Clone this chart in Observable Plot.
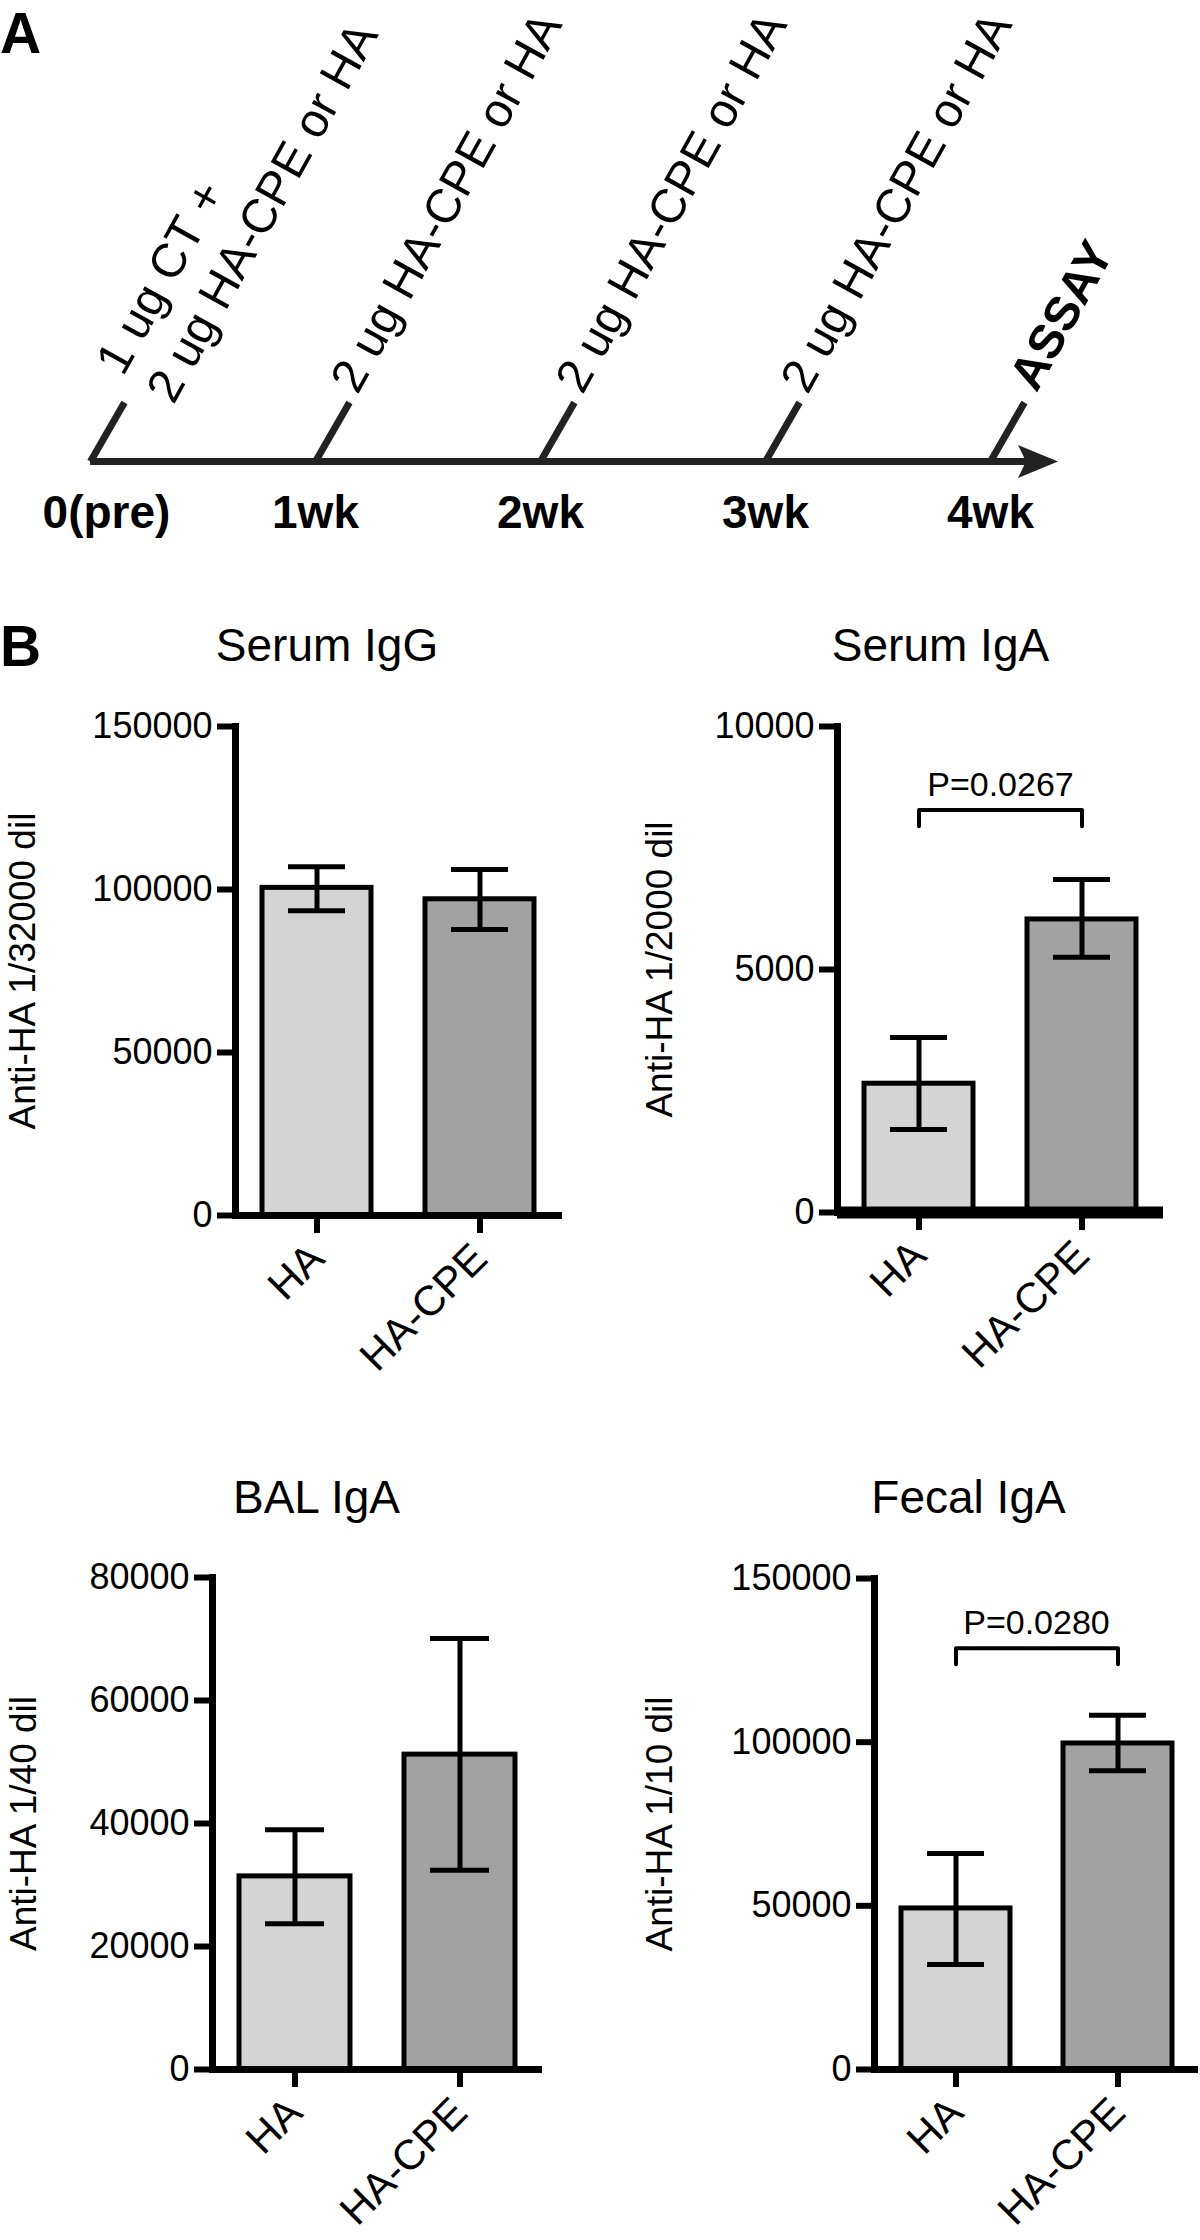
<!DOCTYPE html>
<html>
<head>
<meta charset="utf-8">
<script src="https://cdn.jsdelivr.net/npm/d3@7"></script>
<script src="https://cdn.jsdelivr.net/npm/@observablehq/plot@0.6"></script>
<style>
  body { margin: 0; background: #fff; }
  #root { position: relative; width: 1200px; height: 2240px; background: #fff; overflow: hidden;
          font-family: "Liberation Sans", Arial, sans-serif; }
  .panel { position: absolute; }
  .letter { position: absolute; font-weight: bold; font-size: 57px; line-height: normal; color: #000; }
</style>
</head>
<body>
<div id="root"></div>
<script>
// ---------- Panel A: immunisation timeline ----------
const weeks = [0, 1, 2, 3, 4];
const weekLabels = ["0(pre)", "1wk", "2wk", "3wk", "4wk"];
const doseLabels = [
  "1 ug CT +\n2 ug HA-CPE or HA",
  "2 ug HA-CPE or HA",
  "2 ug HA-CPE or HA",
  "2 ug HA-CPE or HA",
  "ASSAY"
];
const timelineEnd = 4.3;

// ---------- Panel B: antibody titres ----------
const groups = ["HA", "HA-CPE"];
const panelTitles = ["Serum IgG", "Serum IgA", "BAL IgA", "Fecal IgA"];
const yLabels = ["Anti-HA 1/32000 dil", "Anti-HA 1/2000 dil", "Anti-HA 1/40 dil", "Anti-HA 1/10 dil"];
const yTicks = [
  [0, 50000, 100000, 150000],
  [0, 5000, 10000],
  [0, 20000, 40000, 60000, 80000],
  [0, 50000, 100000, 150000]
];
const serumIgGMean = [100500, 97000];
const serumIgGLow  = [93500, 87700];
const serumIgGHigh = [107000, 106100];
const serumIgAMean = [2650, 6030];
const serumIgALow  = [1710, 5250];
const serumIgAHigh = [3600, 6850];
const balIgAMean = [31400, 51200];
const balIgALow  = [23700, 32400];
const balIgAHigh = [39000, 70100];
const fecalIgAMean = [49200, 99600];
const fecalIgALow  = [32100, 91300];
const fecalIgAHigh = [66000, 108200];
const pLabels = [null, "P=0.0267", null, "P=0.0280"];
const pBracketY = [null, 8280, null, 128700];
const pBracketDrop = [null, 330, null, 4900];

// ---------- layout (styles only) ----------
const FONT = "Liberation Sans, Arial, sans-serif";
const INK = "#000";
const LINE = "#222";
const barColors = ["#d4d4d4", "#a2a2a2"];
const tickSlant = 0.151;
const labelAngle = -61;

const root = document.getElementById("root");
function place(node, left, top) {
  const d = document.createElement("div");
  d.className = "panel";
  d.style.left = left + "px";
  d.style.top = top + "px";
  d.appendChild(node);
  root.appendChild(d);
}
function letter(txt, left, top) {
  const d = document.createElement("div");
  d.className = "letter";
  d.textContent = txt;
  d.style.left = left + "px";
  d.style.top = top + "px";
  root.appendChild(d);
}

// Panel A
const tl = weeks.map((w, i) => ({week: w, label: weekLabels[i], dose: doseLabels[i]}));
const arrowHead = {
  draw(ctx, size) {
    const r = Math.sqrt(size / Math.PI);
    ctx.moveTo(0, 0);
    ctx.lineTo(-2 * r, -0.82 * r);
    ctx.lineTo(-1.6 * r, 0);
    ctx.lineTo(-2 * r, 0.82 * r);
    ctx.closePath();
  }
};
const timeline = Plot.plot({
  width: 1200, height: 560, margin: 0,
  x: {domain: [0, 4], range: [90, 990], axis: null},
  y: {domain: [0, 1], range: [461, 402], axis: null},
  style: {fontFamily: FONT, color: INK, background: "none", overflow: "visible"},
  marks: [
    Plot.ruleY([0], {x1: 0, x2: timelineEnd - 0.1, stroke: LINE, strokeWidth: 7}),
    Plot.dot([timelineEnd], {x: d => d, y: 0, symbol: arrowHead, r: 20, fill: LINE, stroke: "none"}),
    Plot.link(tl, {x1: "week", y1: 0, x2: d => d.week + tickSlant, y2: 1, stroke: LINE, strokeWidth: 7}),
    Plot.text(tl.filter(d => d.week === 0), {x: d => d.week + tickSlant, y: 1, text: "dose", rotate: labelAngle,
      textAnchor: "start", lineAnchor: "bottom", lineHeight: 1.2, fontSize: 48, dx: 49, dy: 3, fill: INK}),
    Plot.text(tl.filter(d => d.week > 0 && d.week < 4), {x: d => d.week + tickSlant, y: 1, text: "dose", rotate: labelAngle,
      textAnchor: "start", lineAnchor: "bottom", fontSize: 48, dx: 8, dy: -7, fill: INK}),
    Plot.text(tl.filter(d => d.week === 4), {x: d => d.week + tickSlant, y: 1, text: "dose", rotate: labelAngle,
      textAnchor: "start", lineAnchor: "bottom", fontSize: 48, fontWeight: "bold", dx: 12, dy: -9, fill: INK}),
    Plot.text(tl.filter(d => d.week === 0), {x: "week", y: 0, text: "label", dy: 66, dx: 16,
      lineAnchor: "bottom", fontSize: 46, fontWeight: "bold", fill: INK}),
    Plot.text(tl.filter(d => d.week > 0), {x: "week", y: 0, text: "label", dy: 66,
      lineAnchor: "bottom", fontSize: 46, fontWeight: "bold", fill: INK})
  ]
});
place(timeline, 0, 0);
letter("A", 0, 0);

// Panel B
const layouts = [
  {left: 0,   top: 560,  width: 600, height: 800, mL: 235, mR: 38, mT: 166, mB: 145, base: 7,  titleDx: -72, titleDy: -66, labelDx: -212},
  {left: 600, top: 560,  width: 600, height: 800, mL: 237, mR: 37, mT: 166, mB: 148, base: 12, titleDx: -60, titleDy: -66, labelDx: -177},
  {left: 0,   top: 1360, width: 600, height: 880, mL: 212, mR: 58, mT: 217, mB: 171, base: 7,  titleDx: -61, titleDy: -65, labelDx: -188},
  {left: 600, top: 1360, width: 600, height: 880, mL: 274, mR: 2,  mT: 218, mB: 171, base: 7,  titleDx: -68, titleDy: -66, labelDx: -214}
];
const means = [serumIgGMean, serumIgAMean, balIgAMean, fecalIgAMean];
const lows  = [serumIgGLow, serumIgALow, balIgALow, fecalIgALow];
const highs = [serumIgGHigh, serumIgAHigh, balIgAHigh, fecalIgAHigh];

function barPanel(i) {
  const L = layouts[i];
  const rows = groups.map((g, j) => ({group: g, mean: means[i][j], low: lows[i][j], high: highs[i][j]}));
  const marks = [
    Plot.barY(rows, {x: "group", y: "mean", fill: "group", stroke: INK, strokeWidth: 5}),
    Plot.ruleX(rows, {x: "group", y1: "low", y2: "high", stroke: INK, strokeWidth: 5}),
    Plot.tickY(rows, {x: "group", y: "high", stroke: INK, strokeWidth: 5, insetLeft: 26, insetRight: 26}),
    Plot.tickY(rows, {x: "group", y: "low", stroke: INK, strokeWidth: 5, insetLeft: 26, insetRight: 26}),
    Plot.ruleY([0], {stroke: INK, strokeWidth: L.base}),
    Plot.frame({anchor: "left", stroke: INK, strokeWidth: 7}),
    Plot.axisY({ticks: yTicks[i], tickSize: 18, tickPadding: 5, tickFormat: d => `${d}`, fontSize: 36,
      strokeWidth: 6, label: null}),
    Plot.axisX({tickSize: 18, tickRotate: -45, tickPadding: 18, fontSize: 42, strokeWidth: 6, label: null}),
    Plot.text([panelTitles[i]], {frameAnchor: "top", dx: L.titleDx, dy: L.titleDy, lineAnchor: "bottom",
      fontSize: 46, fill: INK}),
    Plot.text([yLabels[i]], {frameAnchor: "left", rotate: -90, dx: L.labelDx, textAnchor: "middle",
      lineAnchor: "middle", fontSize: 37, fill: INK})
  ];
  if (pLabels[i]) {
    const yb = pBracketY[i], drop = pBracketDrop[i];
    const bracket = [
      {group: groups[0], y: yb - drop}, {group: groups[0], y: yb},
      {group: groups[1], y: yb}, {group: groups[1], y: yb - drop}
    ];
    marks.push(Plot.line(bracket, {x: "group", y: "y", stroke: INK, strokeWidth: 4}));
    marks.push(Plot.text([{label: pLabels[i], y: yb}], {y: "y", text: "label", lineAnchor: "bottom", dy: -14,
      fontSize: 34, fill: INK}));
  }
  return Plot.plot({
    width: L.width, height: L.height,
    marginLeft: L.mL, marginRight: L.mR, marginTop: L.mT, marginBottom: L.mB,
    x: {type: "band", domain: groups, paddingInner: 0.33, paddingOuter: 0.165},
    y: {domain: [0, d3.max(yTicks[i])]},
    color: {type: "ordinal", domain: groups, range: barColors},
    style: {fontFamily: FONT, color: INK, background: "none", overflow: "visible"},
    marks
  });
}
layouts.forEach((L, i) => place(barPanel(i), L.left, L.top));
letter("B", 0, 613);
</script>
</body>
</html>
